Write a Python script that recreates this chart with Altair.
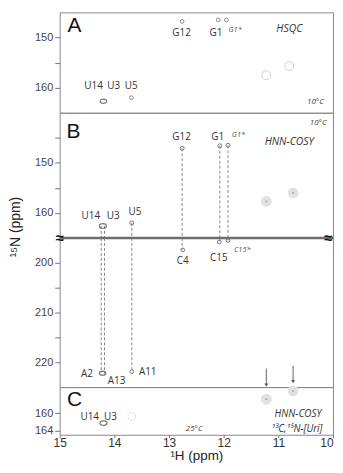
import altair as alt
import pandas as pd

FA = "Liberation Sans"
FL = "Open Sans"

# ---------------- data (ppm) ----------------
# Panel A : HSQC 10 C
a_pk_h = [12.76, 12.10, 11.95, 13.69]
a_pk_n = [146.8, 146.5, 146.5, 162.0]
a_uu_h = [14.20]
a_uu_n = [162.7]
a_gray_h = [11.22, 10.80]
a_gray_n = [157.5, 155.7]
a_lab = ["G12", "G1", "U14", "U3", "U5"]
a_lab_h = [12.77, 12.14, 14.38, 14.01, 13.69]
a_lab_n = [149.2, 149.2, 159.7, 159.7, 159.7]

# Panel B (upper, imino region)
b_pk_h = [12.76, 12.07, 11.92, 13.68]
b_pk_n = [147.1, 146.6, 146.5, 162.0]
b_uu_h = [14.21]
b_uu_n = [162.6]
b_gray_h = [11.22, 10.73]
b_gray_n = [157.7, 156.0]
b_lab = ["G12", "G1", "U14", "U3", "U5"]
b_lab_h = [12.77, 12.11, 14.43, 14.02, 13.625]
b_lab_n = [144.8, 144.8, 160.6, 160.6, 159.8]

# correlations drawn as dashed lines (donor peak -> acceptor peak)
link_h = [12.76, 12.07, 11.92, 14.24, 14.18, 13.68]
link_up_n = [147.1, 146.6, 146.5, 162.6, 162.6, 162.0]
link_lo_n = [197.4, 195.8, 195.5, 222.1, 222.3, 221.9]

# Panel B (lower, acceptor region)
bl_pk_h = [12.75, 12.08, 11.92, 13.68]
bl_pk_n = [197.4, 195.8, 195.5, 221.9]
bl_uu_h = [14.215]
bl_uu_n = [222.2]
bl_lab = ["C4", "C15", "A2", "A13", "A11"]
bl_lab_h = [12.75, 12.09, 14.50, 13.96, 13.39]
bl_lab_n = [199.6, 199.0, 222.3, 223.7, 221.9]
arrow_h = [11.22, 10.73]
arrow_n0 = [221.3, 220.7]
arrow_n1 = [224.6, 223.9]

# Panel C : HNN-COSY 25 C
c_gray_h = [11.22, 10.73]
c_gray_n = [156.8, 154.9]
c_uu_h = [14.20]
c_uu_n = [162.3]
c_dot_h = [13.68]
c_dot_n = [160.8]
c_lab = ["U14", "U3"]
c_lab_h = [14.45, 14.07]
c_lab_n = [160.8, 160.8]

# y domains of the four strips
dom_a = [145, 165]
dom_bu = [140, 165]
dom_bl = [195, 225]
dom_c = [154, 165]

x_ticks = [15, 14, 13, 12, 11, 10]

# ---------------- helpers ----------------
XS = alt.Scale(domain=[10, 15], reverse=True, nice=False, zero=False)
ELL = "M -1 0 A 1 0.65 0 1 0 1 0 A 1 0.65 0 1 0 -1 0 Z"


def X(axis=None):
    return alt.X("h:Q", scale=XS, axis=axis, title=None)


def Y(dom, axis=None):
    return alt.Y("n:Q", scale=alt.Scale(domain=dom, reverse=True, nice=False, zero=False),
                 axis=axis, title=None)


def df(h, n, t=None):
    d = {"h": h, "n": n}
    if t is not None:
        d["t"] = t
    return pd.DataFrame(d)


def texts(t, h, n, dom, yax, xax=None, size=10, style="normal", font=FL, color="#333",
          align="center", weight="normal"):
    return alt.Chart(df(h, n, t)).mark_text(
        align=align, baseline="middle", font=font, fontSize=size, fontStyle=style,
        fontWeight=weight, color=color).encode(x=X(xax), y=Y(dom, yax), text="t:N")


def points(h, n, dom, yax, xax=None, shape="circle", size=16, filled=False, color="#777",
           sw=1, dash=None, opacity=1):
    kw = dict(shape=shape, size=size, filled=filled, color=color, strokeWidth=sw, opacity=opacity)
    if dash:
        kw["strokeDash"] = dash
    return alt.Chart(df(h, n)).mark_point(**kw).encode(x=X(xax), y=Y(dom, yax))


def yaxis(vals, expr):
    return alt.Axis(values=vals, labelExpr=expr, domain=False, grid=False, tickSize=5,
                    tickColor="#777", labelFont=FA, labelFontSize=11, labelColor="#444",
                    labelPadding=2)


lab10 = "datum.value % 10 == 0 ? datum.label : ''"
ax_a = yaxis([150, 155, 160], lab10)
ax_bu = yaxis([145, 150, 155, 160], lab10)
ax_bl = yaxis([200, 205, 210, 215, 220], lab10)
ax_c = yaxis([160, 164], "datum.label")
ax_x = alt.Axis(values=x_ticks, domain=False, grid=False, tickSize=3, tickColor="#777",
                labelFont=FA, labelFontSize=12, labelColor="#333", labelPadding=0,
                labelFlush=False,
                labelAlign={"expr": "datum.value == 10 ? 'right' : 'center'"},
                title="\u00b9H  (ppm)", titleFont=FA, titleFontSize=13.5,
                titleFontWeight="normal", titleColor="#222", titlePadding=0)

W = 275

# ---------------- panel A ----------------
pa = alt.layer(
    points(a_gray_h, a_gray_n, dom_a, ax_a, size=80, color="#d0d0d0"),
    points(a_pk_h, a_pk_n, dom_a, ax_a, size=14, color="#888"),
    points(a_uu_h, a_uu_n, dom_a, ax_a, shape=ELL, size=45, color="#777", sw=1.2),
    texts(a_lab, a_lab_h, a_lab_n, dom_a, ax_a),
    texts(["G1*"], [11.79], [148.6], dom_a, ax_a, size=7.5, style="italic", color="#555"),
    texts(["HSQC"], [10.80], [148.3], dom_a, ax_a, size=10.5, style="italic", color="#333"),
    texts(["10\u00b0C"], [10.32], [162.8], dom_a, ax_a, size=8, style="italic", color="#444"),
    texts(["A"], [14.73], [147.8], dom_a, ax_a, size=21, font=FA, color="#111"),
).properties(width=W, height=101)

# ---------------- panel B upper ----------------
links_up = pd.DataFrame({"h": link_h, "n": link_up_n, "n2": [dom_bu[1]] * len(link_h)})
links_lo = pd.DataFrame({"h": link_h, "n": [dom_bl[0]] * len(link_h), "n2": link_lo_n})

pbu = alt.layer(
    points(b_gray_h, b_gray_n, dom_bu, ax_bu, size=120, filled=True, color="#e2e2e2"),
    points(b_gray_h, b_gray_n, dom_bu, ax_bu, size=3, filled=True, color="#999"),
    alt.Chart(links_up).mark_rule(strokeDash=[3, 2], color="#888", strokeWidth=1).encode(
        x=X(), y=Y(dom_bu, ax_bu), y2="n2:Q"),
    points(b_pk_h, b_pk_n, dom_bu, ax_bu, size=16, color="#777"),
    points(b_uu_h, b_uu_n, dom_bu, ax_bu, shape=ELL, size=50, color="#777", sw=1.2),
    texts(b_lab, b_lab_h, b_lab_n, dom_bu, ax_bu),
    texts(["G1*"], [11.73], [144.4], dom_bu, ax_bu, size=7.5, style="italic", color="#555"),
    texts(["HNN-COSY"], [10.80], [145.75], dom_bu, ax_bu, size=10.5, style="italic", color="#333"),
    texts(["10\u00b0C"], [10.27], [142.1], dom_bu, ax_bu, size=8, style="italic", color="#444"),
    texts(["B"], [14.75], [143.8], dom_bu, ax_bu, size=21, font=FA, color="#111"),
    alt.Chart(pd.DataFrame({"t": ["\u00b9\u2075N  (ppm)"]})).mark_text(
        angle=270, font=FA, fontSize=14, color="#222", baseline="middle", align="center").encode(
        x=alt.value(-44), y=alt.value(115), text="t:N"),
).properties(width=W, height=126)

# ---------------- panel B lower ----------------
arrows = pd.DataFrame({"h": arrow_h, "n": arrow_n0, "n2": arrow_n1})
pbl = alt.layer(
    alt.Chart(links_lo).mark_rule(strokeDash=[3, 2], color="#888", strokeWidth=1).encode(
        x=X(), y=Y(dom_bl, ax_bl), y2="n2:Q"),
    alt.Chart(pd.DataFrame({"n": [dom_bl[0]]})).mark_rule(color="#6e6e6e", strokeWidth=2.5).encode(
        y=Y(dom_bl, ax_bl)),
    alt.Chart(arrows).mark_rule(color="#666", strokeWidth=1).encode(
        x=X(), y=Y(dom_bl, ax_bl), y2="n2:Q"),
    points(arrow_h, arrow_n1, dom_bl, ax_bl, shape="triangle-down", size=14, filled=True, color="#555"),
    points(bl_pk_h, bl_pk_n, dom_bl, ax_bl, size=14, color="#777"),
    points(bl_uu_h, bl_uu_n, dom_bl, ax_bl, shape=ELL, size=40, color="#777", sw=1.2),
    texts(bl_lab, bl_lab_h, bl_lab_n, dom_bl, ax_bl),
    texts(["C15*"], [11.66], [197.4], dom_bl, ax_bl, size=7.5, style="italic", color="#555"),
    texts(["\u2248"], [15.0], [195.0], dom_bl, ax_bl, size=15, font=FA, color="#111", weight="bold"),
    alt.Chart(df([10.0], [195.0], ["\u2248"])).mark_text(
        font=FA, fontSize=15, color="#111", fontWeight="bold", dx=-5, baseline="middle").encode(
        x=X(), y=Y(dom_bl, ax_bl), text="t:N"),
).properties(width=W, height=150)

# ---------------- panel C ----------------
pc = alt.layer(
    points(c_gray_h, c_gray_n, dom_c, ax_c, ax_x, size=120, filled=True, color="#e2e2e2"),
    points(c_gray_h, c_gray_n, dom_c, ax_c, ax_x, size=3, filled=True, color="#999"),
    points(c_uu_h, c_uu_n, dom_c, ax_c, ax_x, shape=ELL, size=50, color="#777", sw=1.2),
    points(c_dot_h, c_dot_n, dom_c, ax_c, ax_x, size=60, color="#c8c8c8", dash=[1.5, 1.5]),
    texts(c_lab, c_lab_h, c_lab_n, dom_c, ax_c, ax_x),
    texts(["C"], [14.73], [157.1], dom_c, ax_c, ax_x, size=21, font=FA, color="#111"),
    texts(["HNN-COSY"], [10.64], [160.2], dom_c, ax_c, ax_x, size=10, style="italic", color="#333"),
    texts(["\u00b9\u00b3C,\u00b9\u2075N-[Uri]"], [10.66], [163.7], dom_c, ax_c, ax_x, size=10,
          style="italic", color="#333"),
    texts(["25\u00b0C"], [12.54], [163.7], dom_c, ax_c, ax_x, size=8, style="italic", color="#444"),
).properties(width=W, height=48)

chart = alt.vconcat(pa, pbu, pbl, pc, spacing=0, bounds="flush").properties(
    padding={"left": 0, "top": 2, "right": 0, "bottom": 0}
).configure_view(stroke="#888", strokeWidth=1)

chart.save("out.html", embed_options={"renderer": "svg", "actions": False})
